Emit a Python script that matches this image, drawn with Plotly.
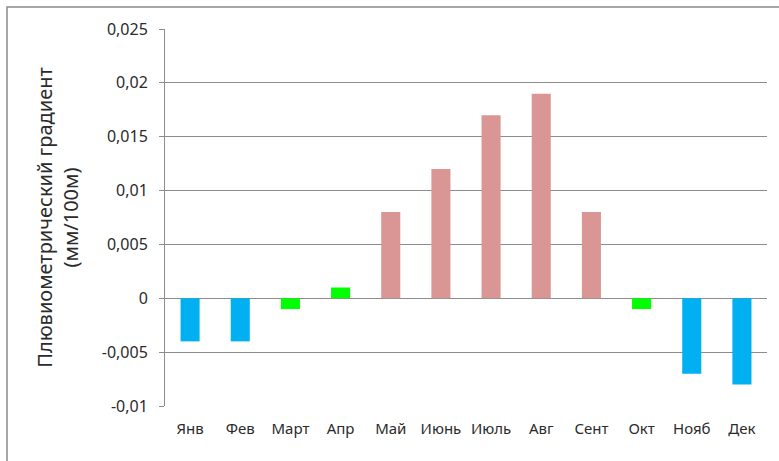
import plotly.graph_objects as go

months = ["Янв", "Фев", "Март", "Апр", "Май", "Июнь", "Июль", "Авг", "Сент", "Окт", "Нояб", "Дек"]
gradient = [-0.004, -0.004, -0.001, 0.001, 0.008, 0.012, 0.017, 0.019, 0.008, -0.001, -0.007, -0.008]
bar_colors = ["#00B0F0", "#00B0F0", "#00FF00", "#00FF00", "#D99694", "#D99694",
              "#D99694", "#D99694", "#D99694", "#00FF00", "#00B0F0", "#00B0F0"]
y_ticks = [-0.01, -0.005, 0, 0.005, 0.01, 0.015, 0.02, 0.025]
y_tick_labels = ["-0,01", "-0,005", "0", "0,005", "0,01", "0,015", "0,02", "0,025"]

W, H = 779, 461
L, R, T, B = 165, 12, 29, 55
pw, ph = W - L - R, H - T - B

fig = go.Figure(go.Bar(x=months, y=gradient, marker_color=bar_colors,
                       marker_line_width=0, hoverinfo="skip"))

font = "Noto Sans, Open Sans, sans-serif"
text_color = "#2b2b2b"
fig.update_layout(
    width=W, height=H,
    margin=dict(l=L, r=R, t=T, b=B),
    paper_bgcolor="white", plot_bgcolor="white",
    bargap=0.62,
    showlegend=False,
    font=dict(family=font, size=14, color=text_color),
    shapes=[dict(type="rect", xref="paper", yref="paper",
                 x0=(7 - L) / pw, x1=(W + 20 - L) / pw,
                 y0=-(H + 20 - T - ph) / ph, y1=1 + (T - 7) / ph,
                 line=dict(color="#8a8a8a", width=1.5), layer="below")],
)
fig.update_xaxes(showgrid=False, showline=False, ticks="", zeroline=False,
                 ticklabelstandoff=12,
                 tickfont=dict(size=15, family=font, color=text_color))
fig.update_yaxes(range=[-0.01, 0.025], tickvals=y_ticks, ticktext=y_tick_labels,
                 showgrid=True, gridcolor="#8c8c8c", gridwidth=1,
                 zeroline=True, zerolinecolor="#8c8c8c", zerolinewidth=1,
                 showline=True, linecolor="#8c8c8c", linewidth=1,
                 ticks="outside", ticklen=5, tickcolor="#8c8c8c",
                 ticklabelstandoff=8,
                 tickfont=dict(size=16, family=font, color=text_color),
                 title=dict(text="Плювиометрический градиент<br>(мм/100м)",
                            font=dict(size=20, family=font, color=text_color),
                            standoff=17))

fig.write_html("out.html")
